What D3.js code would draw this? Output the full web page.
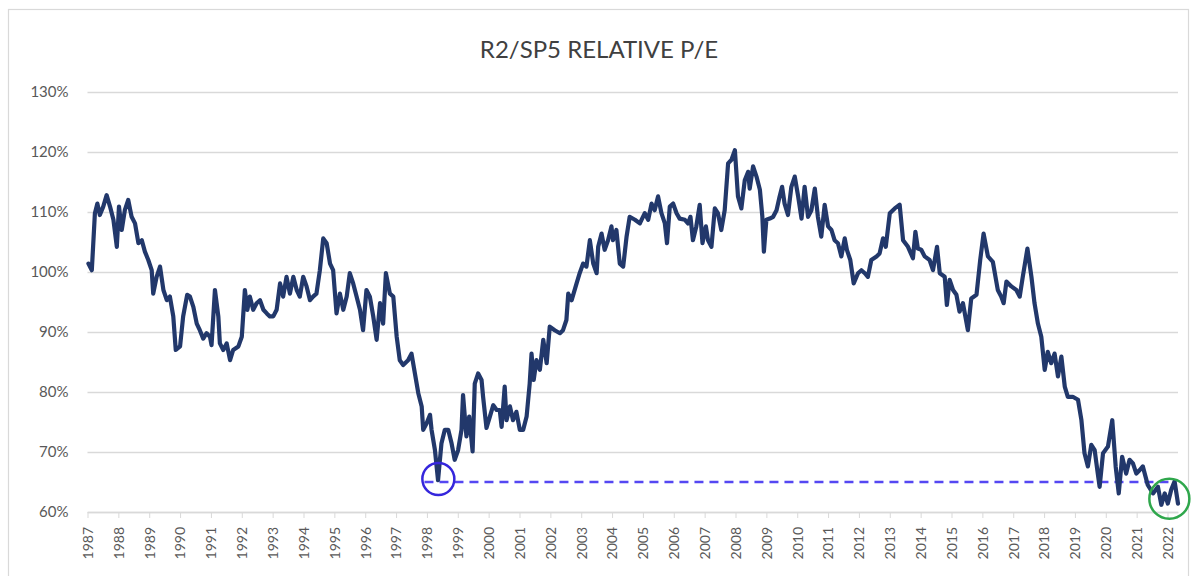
<!DOCTYPE html>
<html>
<head>
<meta charset="utf-8">
<script src="https://cdn.jsdelivr.net/npm/d3@7"></script>
<style>
  html, body { margin: 0; padding: 0; background: #ffffff; }
  svg { display: block; }
</style>
</head>
<body>
<svg id="chart" width="1194" height="576"></svg>
<script>
// ---------------- DATA ----------------
const chartTitle = "R2/SP5 RELATIVE P/E";

const dates = [
  1987.03,1987.14,1987.24,1987.32,1987.40,1987.51,1987.62,1987.73,1987.84,1987.95,
  1988.02,1988.11,1988.21,1988.32,1988.43,1988.54,1988.65,1988.76,1988.86,1988.97,
  1989.08,1989.13,1989.24,1989.35,1989.46,1989.57,1989.67,1989.78,1989.86,1990.00,
  1990.10,1990.23,1990.32,1990.43,1990.54,1990.64,1990.75,1990.86,1990.97,1991.02,
  1991.13,1991.24,1991.29,1991.40,1991.51,1991.62,1991.72,1991.89,1992.00,1992.10,
  1992.18,1992.26,1992.37,1992.48,1992.59,1992.70,1992.81,1992.91,1993.02,1993.13,
  1993.24,1993.34,1993.45,1993.56,1993.67,1993.78,1993.88,1993.99,1994.10,1994.21,
  1994.31,1994.42,1994.53,1994.64,1994.75,1994.86,1994.96,1995.07,1995.18,1995.29,
  1995.40,1995.50,1995.61,1995.72,1995.83,1995.93,1996.04,1996.15,1996.26,1996.37,
  1996.48,1996.58,1996.67,1996.80,1996.91,1997.02,
  1997.12,1997.23,1997.39,1997.50,1997.61,1997.72,1997.83,1997.88,1997.99,1998.10,
  1998.15,1998.26,1998.36,1998.47,1998.58,1998.69,1998.80,1998.90,1999.01,1999.12,
  1999.17,1999.28,1999.37,1999.48,1999.55,1999.66,1999.77,1999.82,1999.93,2000.04,
  2000.15,2000.26,2000.36,2000.42,2000.52,2000.58,2000.69,2000.79,2000.90,2001.01,
  2001.12,2001.23,2001.33,2001.39,2001.46,2001.55,2001.66,2001.77,2001.88,2001.98,
  2002.14,2002.31,2002.41,2002.52,2002.58,2002.69,2002.85,2002.95,2003.06,2003.17,
  2003.28,2003.39,2003.50,2003.55,2003.66,2003.76,2003.87,
  2003.98,2004.03,2004.14,2004.25,2004.36,2004.47,2004.57,2004.74,2004.90,2005.06,
  2005.17,2005.28,2005.38,2005.49,2005.60,2005.71,2005.78,2005.87,2005.98,2006.09,
  2006.19,2006.36,2006.46,2006.54,2006.62,2006.73,2006.84,2006.93,2007.04,2007.11,
  2007.22,2007.33,2007.43,2007.54,2007.65,2007.76,2007.87,2007.98,2008.08,2008.19,
  2008.30,2008.41,2008.46,2008.57,2008.68,2008.79,2008.87,2008.92,2009.00,2009.11,
  2009.22,2009.33,2009.43,2009.51,2009.59,2009.70,2009.81,2009.92,2010.03,2010.14,
  2010.24,2010.35,2010.46,2010.57,2010.67,2010.78,2010.89,2011.00,2011.11,2011.21,
  2011.32,2011.43,2011.54,2011.61,2011.72,2011.83,
  2011.97,2012.08,2012.19,2012.29,2012.40,2012.57,2012.67,2012.78,2012.87,2013.00,
  2013.16,2013.32,2013.43,2013.59,2013.75,2013.83,2013.91,2014.02,2014.13,2014.29,
  2014.40,2014.53,2014.62,2014.78,2014.85,2014.94,2015.05,2015.16,2015.26,2015.37,
  2015.53,2015.64,2015.81,2015.93,2016.04,2016.18,2016.34,2016.50,2016.61,2016.69,
  2016.78,2016.94,2017.10,2017.21,2017.31,2017.46,2017.59,2017.69,2017.80,2017.91,
  2018.02,2018.12,2018.23,2018.34,2018.45,2018.56,2018.67,2018.77,2018.93,2019.10,
  2019.21,2019.31,2019.42,2019.53,2019.64,2019.74,2019.80,2019.91,2020.07,2020.21,
  2020.32,2020.42,2020.53,2020.66,2020.77,2020.88,2020.99,2021.10,2021.20,2021.36,
  2021.53,2021.69,2021.80,2021.91,2022.01,2022.12,2022.23,2022.34
];

const values = [
  101.4,100.3,109.8,111.4,109.5,110.9,112.8,110.9,108.7,104.2,
  110.9,107.0,110.3,112.0,109.2,108.1,104.8,105.3,103.4,102.0,
  100.3,96.4,99.2,100.9,97.0,95.3,95.9,92.6,87.0,87.6,
  92.6,96.2,95.9,94.2,91.4,90.3,88.9,89.8,89.2,87.8,
  97.0,92.6,88.1,87.0,88.1,85.3,87.0,87.6,89.2,97.0,
  93.7,95.9,93.7,94.8,95.3,93.7,93.1,92.6,92.6,93.7,
  98.1,95.9,99.2,96.4,99.2,97.0,95.9,99.2,97.6,95.3,
  95.9,96.4,100.3,105.6,104.8,101.4,100.3,93.1,96.4,93.7,
  95.9,99.8,98.1,95.9,93.7,90.3,97.0,95.9,92.6,88.7,
  94.8,91.4,99.8,96.4,95.9,89.2,
  85.3,84.5,85.3,86.4,83.1,79.8,77.6,73.7,74.8,76.2,
  73.7,70.3,65.3,71.4,73.7,73.7,71.4,68.7,70.3,73.7,
  79.5,72.6,75.9,70.1,81.4,83.1,82.0,79.2,74.0,75.9,
  77.8,77.0,77.0,74.2,80.9,75.3,77.6,75.3,76.7,73.7,
  73.7,75.9,81.4,86.4,82.0,85.3,83.7,88.7,84.8,90.9,
  90.3,89.8,90.3,92.0,96.4,95.3,98.1,99.8,101.4,100.9,
  105.3,101.4,99.8,104.2,106.4,103.7,105.3,
  107.6,105.3,107.0,101.4,100.9,105.9,109.2,108.7,108.1,109.8,
  108.7,111.4,110.3,112.6,109.8,108.1,104.8,110.9,111.4,109.8,
  108.9,108.7,108.1,109.2,105.3,107.6,111.2,104.8,107.6,105.3,
  104.2,110.6,109.8,107.0,110.3,118.1,118.7,120.3,112.6,110.6,
  115.3,116.7,113.9,117.6,115.9,113.7,109.2,103.4,108.7,108.9,
  109.2,110.3,112.6,114.2,111.4,109.5,114.2,115.9,112.6,108.9,
  114.2,109.2,110.3,113.9,109.2,105.9,111.2,107.6,107.0,105.3,
  104.8,102.6,105.6,103.7,102.0,98.1,
  99.8,100.3,99.8,99.2,102.0,102.6,103.1,105.6,104.2,109.8,
  110.6,111.2,105.3,104.2,102.3,106.7,103.9,103.7,102.6,102.0,
  100.3,104.2,99.8,99.2,94.5,98.7,97.0,96.2,93.4,94.8,
  90.3,95.6,96.2,102.0,106.4,102.6,101.7,97.0,95.9,94.8,
  98.4,97.6,97.0,95.9,99.2,103.9,99.2,94.8,91.4,89.2,
  83.7,86.7,84.8,86.4,82.6,85.9,80.9,79.2,79.2,78.7,
  75.3,69.8,67.6,71.2,70.3,66.4,64.2,69.8,70.9,75.3,
  67.6,63.1,69.2,66.4,68.7,68.1,66.4,67.0,67.6,64.5,
  63.1,64.2,61.2,63.1,61.4,63.7,65.1,61.4
];

const yearTicks = [1987,1988,1989,1990,1991,1992,1993,1994,1995,1996,1997,1998,
  1999,2000,2001,2002,2003,2004,2005,2006,2007,2008,2009,2010,2011,2012,2013,
  2014,2015,2016,2017,2018,2019,2020,2021,2022];
const yTicks = [60,70,80,90,100,110,120,130];

// annotations (data units)
const lowMark = { date: 1998.37, value: 65.5 };
const thresholdValue = 65;
const thresholdSpan = [1997.92, 2022.12];
const nowMark = { date: 2022.06, value: 62.2 };

// ---------------- LAYOUT ----------------
const plot = { left: 87.5, right: 1178, top: 92, bottom: 512 };
const svg = d3.select("#chart");

const x = d3.scaleLinear().domain([1987, 2022.34]).range([plot.left, plot.right]);
const y = d3.scaleLinear().domain([60, 130]).range([plot.bottom, plot.top]);

const FONT = "Lato, 'Open Sans', 'DejaVu Sans', sans-serif";

// outer frame
svg.append("rect")
  .attr("x", 8.5).attr("y", 9.5).attr("width", 1180).attr("height", 620)
  .attr("fill", "#ffffff").attr("stroke", "#d9d9d9").attr("stroke-width", 1.2);

// title
svg.append("text")
  .attr("x", 599).attr("y", 58)
  .attr("text-anchor", "middle")
  .attr("font-family", FONT).attr("font-size", 24)
  .attr("fill", "#404040")
  .text(chartTitle);

// y axis with gridlines
const yAxis = svg.append("g")
  .attr("transform", `translate(${plot.left},0)`)
  .call(d3.axisLeft(y).tickValues(yTicks)
    .tickSize(-(plot.right - plot.left))
    .tickPadding(19)
    .tickFormat(d => d + "%"));
yAxis.select(".domain").remove();
yAxis.selectAll(".tick line").attr("stroke", "#d9d9d9").attr("stroke-width", 1.3);
yAxis.selectAll(".tick text")
  .attr("font-family", FONT).attr("font-size", 15).attr("fill", "#595959");

// x axis
const xAxis = svg.append("g")
  .attr("transform", `translate(0,${plot.bottom})`)
  .call(d3.axisBottom(x).tickValues(yearTicks).tickSize(6).tickSizeOuter(0)
    .tickFormat(d3.format("d")));
xAxis.select(".domain").attr("stroke", "#d9d9d9").attr("stroke-width", 1.3);
xAxis.selectAll(".tick line").attr("stroke", "#d9d9d9");
xAxis.selectAll(".tick text")
  .attr("font-family", FONT).attr("font-size", 14).attr("fill", "#595959")
  .attr("transform", "rotate(-90)")
  .attr("text-anchor", "end")
  .attr("x", -15).attr("y", 0).attr("dy", "0.35em");

// dashed threshold
svg.append("line")
  .attr("x1", x(thresholdSpan[0])).attr("x2", x(thresholdSpan[1]))
  .attr("y1", y(thresholdValue)).attr("y2", y(thresholdValue))
  .attr("stroke", "#5547f2").attr("stroke-width", 2.5)
  .attr("stroke-dasharray", "9,6");

// series line
const series = dates.map((d, i) => ({ date: d, value: values[i] }));
svg.append("path")
  .datum(series)
  .attr("fill", "none")
  .attr("stroke", "#22386b")
  .attr("stroke-width", 4.2)
  .attr("stroke-linejoin", "round")
  .attr("stroke-linecap", "round")
  .attr("d", d3.line().x(d => x(d.date)).y(d => y(d.value)));

// circles
svg.append("circle")
  .attr("cx", x(lowMark.date)).attr("cy", y(lowMark.value)).attr("r", 16)
  .attr("fill", "none").attr("stroke", "#3526dc").attr("stroke-width", 2.5);
svg.append("circle")
  .attr("cx", x(nowMark.date)).attr("cy", y(nowMark.value)).attr("r", 20)
  .attr("fill", "none").attr("stroke", "#2fa74c").attr("stroke-width", 2.5);
</script>
</body>
</html>
